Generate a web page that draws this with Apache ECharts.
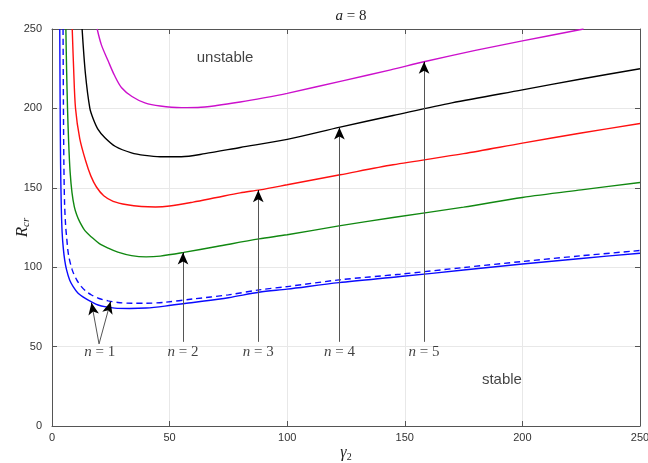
<!DOCTYPE html>
<html><head><meta charset="utf-8">
<script src="https://cdn.jsdelivr.net/npm/echarts@6/dist/echarts.min.js"></script>
<style>html,body{margin:0;padding:0;background:#fff}#c{width:648px;height:463px}</style>
</head><body><div id="c"></div>
<script>
// ---- data ----
const xTicks = [0, 50, 100, 150, 200, 250];
const yTicks = [0, 50, 100, 150, 200, 250];

const gN1 = [3.3,3.45,3.65,3.95,4.3,4.8,5.4,6.2,7.5,9,11,14,17,19.6,23,26.7,33,40,48,60,75,88,100,122,148,175,200,225,250];
const rN1 = [250,205,165,138,122,112,104.5,98.3,92,87.8,83.8,80.5,78,76.2,75,74.2,74,74.3,75.5,77.8,80.8,84.2,86.2,90.3,94.1,98.2,102,105.5,108.8];

const gN1d = [4.7,4.85,5.05,5.35,5.8,6.2,7.0,8.6,10.5,12.5,14.5,16.8,20,23.9,28,34,40,48,60,75,88,100,122,148,175,200,225,250];
const rN1d = [250,205,165,140,126,119.3,108,98.3,92,87.8,84.8,82.5,80.3,78.8,77.8,77.3,77.3,77.9,80,82.6,85.7,87.8,92,95.6,99.8,103.6,107.2,110.5];

const gN2 = [5.9,6.2,6.6,7.1,7.7,8.5,9.5,10.5,11.8,14,16.8,20,23.9,28,33.8,40,46,56,70,88,100,122,145,175,200,225,250];
const rN2 = [250,225,200,178,160,147,138,133,128.5,123,119,115,112,109.5,107.3,106.5,107,109.3,113,117.8,120.4,126,131.3,137.8,143.9,148.7,153.3];

const gN3 = [8.6,9.2,10,11.8,14.3,16.5,18.9,22,26,32,38,44,50,60,70,80,88.4,100,122.5,145,175,200,225,250];
const rN3 = [250,225,200,181,167,157.5,150.5,145,141.5,139.3,138.2,137.9,138.5,141,143.9,146.8,148.7,151.9,158.2,164.5,171.5,178.1,184.5,190.5];

const gN4 = [12.8,14.2,16.1,17.5,19.5,22.5,27,33.8,39.5,46,55,65,80,100,122.5,145,170,200,225,250];
const rN4 = [250,222,200,193.5,187,181.5,176,172,170.4,169.6,169.6,171.5,175.4,180.5,188.2,195.5,203.5,211.7,218.5,225];

const gN5 = [19.2,21,23.9,26.5,29.6,34,39.5,46,55,62,70,80,90,100,124,144,158.6,180,200,226];
const rN5 = [250,240,229.8,221,213,207.5,203.5,201.5,200.5,200.6,201.8,204,206.6,209.5,217.5,224.3,229.5,236.5,242.5,250];

// annotations (data coordinates)
const arrowFrom = [[20.0,51.7],[20.0,51.7],[55.7,53],[87.7,53],[122.2,53],[158.2,53]];
const arrowTo   = [[16.8,77.6],[24.9,78.3],[55.7,109.3],[87.7,148.5],[122.2,188],[158.2,229.3]];
const nLabelText = ['1','2','3','4','5'];
const nLabelX = [20.3, 55.7, 87.7, 122.2, 158.2];
const nLabelY = [46.3, 46.3, 46.3, 46.3, 46.3];
const regionText = ['unstable','stable'];
const regionX = [73.6, 191.3];
const regionY = [232, 29];

// ---- chart ----
const zip = (g, r) => g.map((v, i) => [v, r[i]]);
const serif = 'Liberation Serif';
const axisColor = '#555';

function curve(name, g, r, color, dashed) {
  return {
    name, type: 'line', data: zip(g, r), smooth: 0.3,
    showSymbol: false, symbol: 'none', clip: true, silent: true,
    lineStyle: { color, width: 1.4, type: dashed ? [6, 4] : 'solid' },
    z: 3
  };
}

// arrow head segments: short piece at the tip of each annotation arrow
const headFrom = arrowTo.map((t, i) => [t[0] + (arrowFrom[i][0] - t[0]) * 0.03, t[1] + (arrowFrom[i][1] - t[1]) * 0.03]);

const chart = echarts.init(document.getElementById('c'), null, { renderer: 'canvas' });
chart.setOption({
  animation: false,
  backgroundColor: '#fff',
  title: {
    text: '{i|a} = 8', left: 346, top: 4, textAlign: 'center',
    textStyle: { fontFamily: serif, fontSize: 15, fontWeight: 'normal', color: '#222',
      rich: { i: { fontFamily: serif, fontStyle: 'italic', fontSize: 15, color: '#222' } } }
  },
  grid: { left: 52, right: 8, top: 29, bottom: 37, containLabel: false, outerBoundsMode: 'none' },
  xAxis: [{
    type: 'value', min: xTicks[0], max: xTicks[xTicks.length - 1], interval: xTicks[1] - xTicks[0],
    axisLine: { show: true, onZero: false, lineStyle: { color: axisColor, width: 1 } },
    axisTick: { show: true, inside: true, length: 5, lineStyle: { color: axisColor } },
    axisLabel: { color: '#333', fontSize: 11, fontFamily: 'Liberation Sans', margin: 6 },
    splitLine: { show: true, lineStyle: { color: '#e8e8e8', width: 1 } },
    name: '{i|γ}{s|2}', nameLocation: 'middle', nameGap: 18, nameMoveOverlap: false,
    nameTextStyle: { fontFamily: serif, fontSize: 16, color: '#222',
      rich: { i: { fontFamily: serif, fontStyle: 'italic', fontSize: 16 }, s: { fontFamily: serif, fontSize: 10, padding: [8, 0, 0, 0] } } }
  }, {
    type: 'value', position: 'top', min: xTicks[0], max: xTicks[xTicks.length - 1], interval: xTicks[1] - xTicks[0],
    axisLine: { show: true, onZero: false, lineStyle: { color: axisColor, width: 1 } },
    axisTick: { show: true, inside: true, length: 5, lineStyle: { color: axisColor } },
    axisLabel: { show: false }, splitLine: { show: false }
  }],
  yAxis: [{
    type: 'value', min: yTicks[0], max: yTicks[yTicks.length - 1], interval: yTicks[1] - yTicks[0],
    axisLine: { show: true, onZero: false, lineStyle: { color: axisColor, width: 1 } },
    axisTick: { show: true, inside: true, length: 5, lineStyle: { color: axisColor } },
    axisLabel: { color: '#333', fontSize: 11, fontFamily: 'Liberation Sans', margin: 10 },
    splitLine: { show: true, lineStyle: { color: '#e8e8e8', width: 1 } },
    name: '{i|R}{s|cr}', nameLocation: 'middle', nameGap: 20, nameRotate: 90, nameMoveOverlap: false,
    nameTextStyle: { fontFamily: serif, fontSize: 17, color: '#222',
      rich: { i: { fontFamily: serif, fontStyle: 'italic', fontSize: 17 }, s: { fontFamily: serif, fontStyle: 'italic', fontSize: 11, padding: [8, 0, 0, 0] } } }
  }, {
    type: 'value', position: 'right', min: yTicks[0], max: yTicks[yTicks.length - 1], interval: yTicks[1] - yTicks[0],
    axisLine: { show: true, onZero: false, lineStyle: { color: axisColor, width: 1 } },
    axisTick: { show: true, inside: true, length: 5, lineStyle: { color: axisColor } },
    axisLabel: { show: false }, splitLine: { show: false }
  }],
  series: [
    curve('n=1', gN1, rN1, '#0a0aff', false),
    curve('n=1 (dashed)', gN1d, rN1d, '#0a0aff', true),
    curve('n=2', gN2, rN2, '#118811', false),
    curve('n=3', gN3, rN3, '#ff1010', false),
    curve('n=4', gN4, rN4, '#000000', false),
    curve('n=5', gN5, rN5, '#cc10cc', false),
    {
      name: 'arrows', type: 'line', data: [], silent: true, z: 4,
      markLine: {
        silent: true, animation: false, symbol: ['none', 'none'],
        lineStyle: { color: '#555', width: 1, type: 'solid' },
        label: { show: false },
        data: arrowFrom.map((s, i) => [{ coord: s }, { coord: arrowTo[i] }])
      }
    },
    {
      name: 'heads', type: 'line', data: [], silent: true, z: 5,
      markLine: {
        silent: true, animation: false, symbol: ['none', 'arrow'], symbolSize: [8, 12],
        lineStyle: { color: '#000', width: 1, type: 'solid' },
        label: { show: false },
        data: headFrom.map((s, i) => [{ coord: s }, { coord: arrowTo[i] }])
      }
    },
    {
      name: 'nlabels', type: 'scatter', silent: true, symbolSize: 1, z: 5,
      itemStyle: { color: 'rgba(0,0,0,0)' },
      data: nLabelX.map((x, i) => [x, nLabelY[i], nLabelText[i]]),
      label: {
        show: true, position: 'inside', color: '#111', fontFamily: serif, fontSize: 15,
        formatter: p => '{i|n} = ' + p.data[2],
        rich: { i: { fontFamily: serif, fontStyle: 'italic', fontSize: 15, color: '#111' } }
      }
    },
    {
      name: 'regions', type: 'scatter', silent: true, symbolSize: 1, z: 5,
      itemStyle: { color: 'rgba(0,0,0,0)' },
      data: regionX.map((x, i) => [x, regionY[i], regionText[i]]),
      label: {
        show: true, position: 'inside', color: '#111', fontFamily: 'Liberation Sans', fontSize: 15,
        formatter: p => p.data[2]
      }
    }
  ]
});
</script>
</body></html>
